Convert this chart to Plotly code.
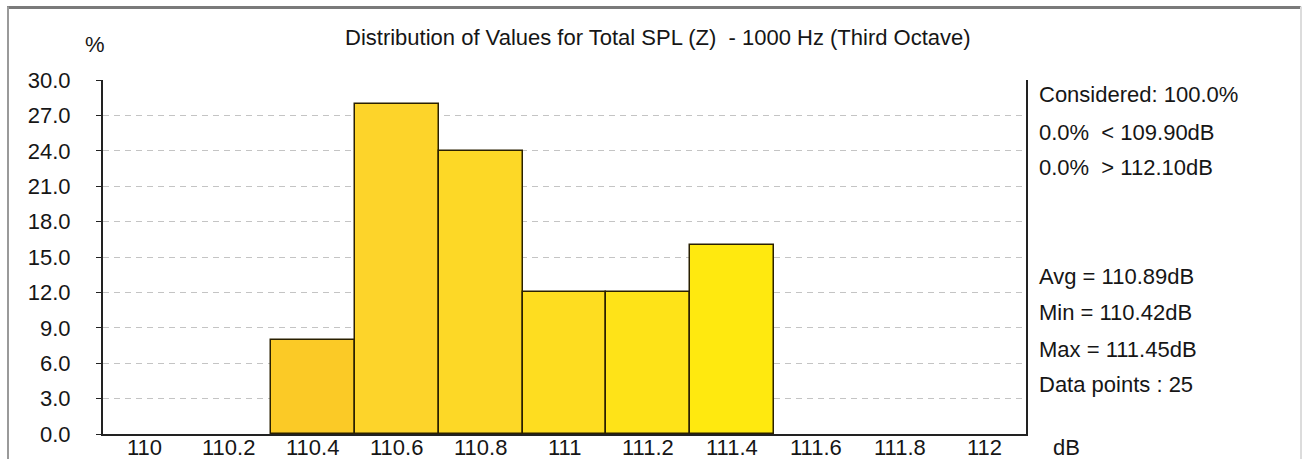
import plotly.graph_objects as go

bin_centers = [110.4, 110.6, 110.8, 111.0, 111.2, 111.4]
percent = [8, 28, 24, 12, 12, 16]
bar_colors = ["#FBCA26", "#FDD42A", "#FDD826", "#FEDD20", "#FEE318", "#FFE90F"]
x_ticks = [110, 110.2, 110.4, 110.6, 110.8, 111, 111.2, 111.4, 111.6, 111.8, 112]
x_tick_text = ["110", "110.2", "110.4", "110.6", "110.8", "111", "111.2", "111.4", "111.6", "111.8", "112"]
y_ticks = [0, 3, 6, 9, 12, 15, 18, 21, 24, 27, 30]
y_tick_text = ["0.0", "3.0", "6.0", "9.0", "12.0", "15.0", "18.0", "21.0", "24.0", "27.0", "30.0"]
title_text = "Distribution of Values for Total SPL (Z)  - 1000 Hz (Third Octave)"
stats_top = ["Considered: 100.0%", "0.0%  < 109.90dB", "0.0%  > 112.10dB"]
stats_bottom = ["Avg = 110.89dB", "Min = 110.42dB", "Max = 111.45dB", "Data points : 25"]

FONT = "Liberation Sans, Arial, sans-serif"
TXT = "#161616"
FS = 22

W, H = 1306, 459
L, R, T, B = 103, 280, 80, 23
pw, ph = W - L - R, H - T - B

def px(x):
    return (x - L) / pw

def py(y):
    # y in pixels of the target picture -> paper fraction
    yd = (y - 2) / 0.975
    return (H - B - yd) / ph

fig = go.Figure()
fig.add_trace(go.Bar(
    x=bin_centers, y=percent, width=0.2,
    marker=dict(color=bar_colors, line=dict(color="#2a2000", width=1.5)),
    hoverinfo="skip",
))

def note(text, x, y, xanchor="left", xref="paper"):
    return dict(text=text, x=x, y=y, xref=xref, yref="paper",
                xanchor=xanchor, yanchor="middle", showarrow=False,
                font=dict(family=FONT, size=FS, color=TXT))

annotations = [
    note(title_text, px(658), py(38), "center"),
    note("%", px(95), py(45), "center"),
    note("dB", px(1051), py(440)),
]
for txt, yy in zip(stats_top, [94, 131, 166]):
    annotations.append(note(txt, px(1037), py(yy)))
for txt, yy in zip(stats_bottom, [273, 308, 344, 379]):
    annotations.append(note(txt, px(1037), py(yy)))
for xv, lab in zip(x_ticks, x_tick_text):
    annotations.append(note(lab, xv, py(440), "center", xref="x"))

shapes = [
    dict(type="line", xref="paper", yref="paper", x0=px(7), x1=px(1301), y0=py(9), y1=py(9),
         line=dict(color="#7a7a7a", width=3)),
    dict(type="line", xref="paper", yref="paper", x0=px(8), x1=px(8), y0=py(8), y1=py(470),
         line=dict(color="#9a9a9a", width=2)),
    dict(type="line", xref="paper", yref="paper", x0=px(1301), x1=px(1301), y0=py(8), y1=py(470),
         line=dict(color="#dcdcdc", width=2)),
]

fig.update_layout(
    width=W, height=H, autosize=False,
    margin=dict(l=L, r=R, t=T, b=B, pad=0),
    paper_bgcolor="white", plot_bgcolor="white",
    showlegend=False, bargap=0,
    annotations=annotations, shapes=shapes,
    font=dict(family=FONT, size=FS, color=TXT),
    xaxis=dict(
        range=[109.9, 112.1], tickvals=x_ticks, ticktext=x_tick_text, showticklabels=False,
        showgrid=False, zeroline=False, showline=True, linecolor="#222", linewidth=2,
        ticks="", fixedrange=True,
    ),
    yaxis=dict(
        range=[0, 30], tickvals=y_ticks, ticktext=y_tick_text,
        showgrid=True, gridcolor="#c4c4c4", gridwidth=1, griddash="6px,5px",
        zeroline=False, showline=True, linecolor="#222", linewidth=2, mirror=True,
        ticks="outside", ticklen=5, tickcolor="#222", tickwidth=1,
        tickfont=dict(family=FONT, size=FS, color=TXT), ticklabelstandoff=21,
        fixedrange=True,
    ),
)

fig.write_html(
    "out.html",
    config={"displayModeBar": False, "responsive": False},
    post_script="document.body.style.margin='0';document.body.style.overflow='hidden';",
)
